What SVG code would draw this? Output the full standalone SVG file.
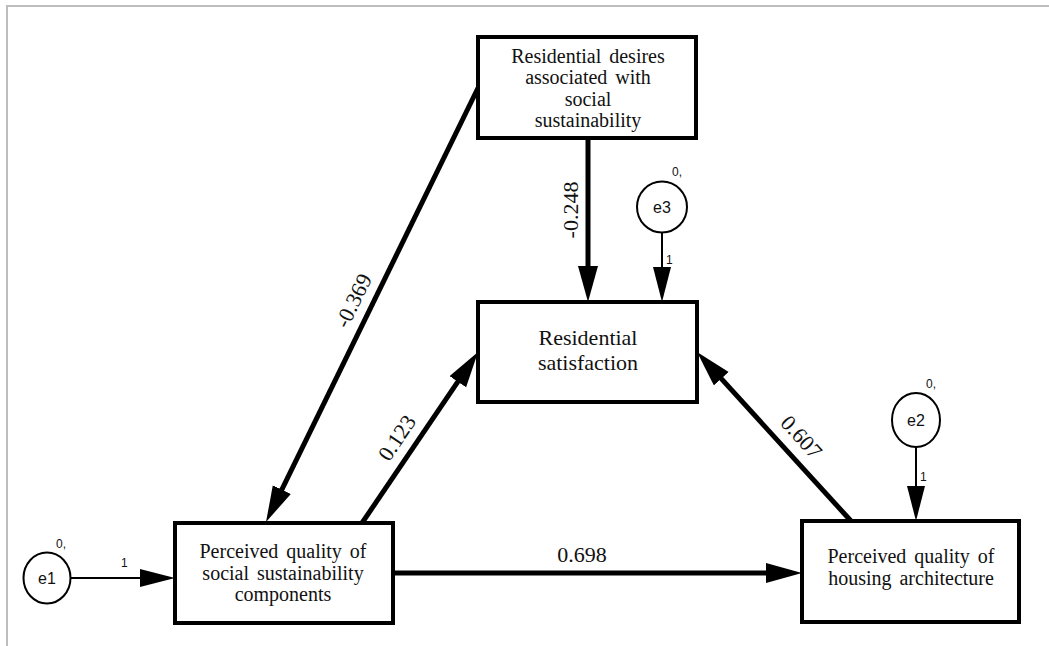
<svg xmlns="http://www.w3.org/2000/svg" width="1049" height="646" viewBox="0 0 1049 646">
<style>
.box{fill:#fff;stroke:#000;stroke-width:4}
.bt{font-family:"Liberation Serif","Times New Roman",serif;font-size:20px;fill:#111;text-anchor:middle;word-spacing:3px}
.big{font-size:22px}
.conn{stroke:#000;stroke-width:5;fill:none}
.thin{stroke:#000;stroke-width:2;fill:none}
.coef{font-family:"Liberation Serif","Times New Roman",serif;font-size:22px;fill:#111;text-anchor:middle}
.err{fill:#fff;stroke:#000;stroke-width:2}
.et{font-family:"Liberation Sans",Arial,sans-serif;font-size:16px;fill:#111;text-anchor:middle}
.sm{font-family:"Liberation Sans",Arial,sans-serif;font-size:12px;fill:#111}
</style>
<defs>
<marker id="ah" markerUnits="userSpaceOnUse" markerWidth="38" markerHeight="22" refX="24" refY="10" orient="auto">
<path d="M0,0 L36,10 L0,20 z" fill="#000"/>
</marker>
<marker id="ahs" markerUnits="userSpaceOnUse" markerWidth="38" markerHeight="22" refX="25" refY="9" orient="auto">
<path d="M0,0 L35,9 L0,18 z" fill="#000"/>
</marker>
</defs>
<rect width="1049" height="646" fill="#fff"/>
<path d="M7,646 L7,6 L1049,6" fill="none" stroke="#bdbdbd" stroke-width="2"/>

<g id="connectors">
<line class="conn" x1="588" y1="138" x2="588" y2="290" marker-end="url(#ah)"/>
<line class="conn" x1="478" y1="88" x2="271.3" y2="511.2" marker-end="url(#ah)"/>
<line class="conn" x1="362" y1="523" x2="471.3" y2="361.9" marker-end="url(#ah)"/>
<line class="conn" x1="851" y1="521" x2="705.1" y2="360.9" marker-end="url(#ah)"/>
<line class="conn" x1="393" y1="573" x2="790" y2="573" marker-end="url(#ah)"/>
<line class="thin" x1="70" y1="578" x2="165" y2="578" marker-end="url(#ahs)"/>
<line class="thin" x1="662" y1="233" x2="662" y2="292" marker-end="url(#ahs)"/>
<line class="thin" x1="916" y1="447" x2="916" y2="511" marker-end="url(#ahs)"/>
<text class="coef" transform="translate(578,210) rotate(-90)">-0.248</text>
<text class="coef" transform="translate(360,304) rotate(-64)">-0.369</text>
<text class="coef" transform="translate(403,442) rotate(-56)">0.123</text>
<text class="coef" transform="translate(796,442) rotate(47.7)">0.607</text>
<text class="coef" x="582" y="562">0.698</text>
<text class="sm" x="121" y="567">1</text>
<text class="sm" x="666" y="264">1</text>
<text class="sm" x="920" y="481">1</text>
</g>

<g id="desires">
<rect class="box" x="478" y="37" width="218" height="101"/>
<text class="bt" x="588" y="63">Residential desires</text>
<text class="bt" x="588" y="84">associated with</text>
<text class="bt" x="588" y="106">social</text>
<text class="bt" x="588" y="127">sustainability</text>
</g>

<g id="satisfaction">
<rect class="box" x="478" y="302" width="219" height="100"/>
<text class="bt big" x="588" y="345">Residential</text>
<text class="bt big" x="588" y="370">satisfaction</text>
</g>

<g id="social">
<rect class="box" x="175" y="523" width="218" height="100"/>
<text class="bt" x="283" y="558">Perceived quality of</text>
<text class="bt" x="283" y="580">social sustainability</text>
<text class="bt" x="283" y="601">components</text>
</g>

<g id="housing">
<rect class="box" x="802" y="521" width="217" height="101"/>
<text class="bt" x="911" y="563">Perceived quality of</text>
<text class="bt" x="911" y="585">housing architecture</text>
</g>

<g id="e1">
<ellipse class="err" cx="47" cy="578" rx="23.5" ry="25.5"/>
<text class="et" x="47" y="584">e1</text>
<text class="sm" x="56" y="548">0,</text>
</g>

<g id="e3">
<ellipse class="err" cx="662" cy="207" rx="25" ry="25.5"/>
<text class="et" x="662" y="213">e3</text>
<text class="sm" x="672" y="176">0,</text>
</g>

<g id="e2">
<ellipse class="err" cx="916" cy="420" rx="24" ry="27"/>
<text class="et" x="916" y="426">e2</text>
<text class="sm" x="926" y="388">0,</text>
</g>
</svg>
